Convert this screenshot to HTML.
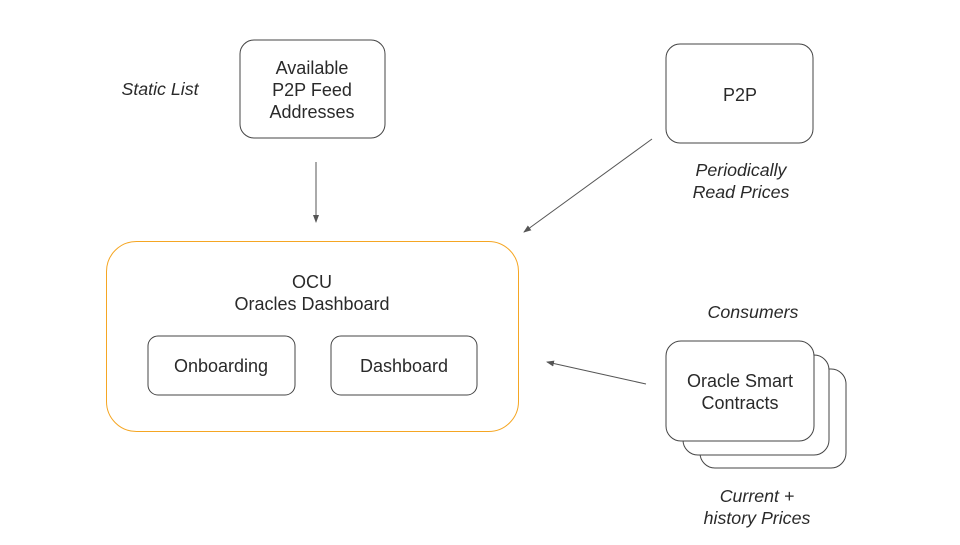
<!DOCTYPE html>
<html><head><style>body{margin:0;background:#fff}</style></head><body>
<svg width="960" height="540" viewBox="0 0 960 540" xmlns="http://www.w3.org/2000/svg" font-family="Liberation Sans, DejaVu Sans, sans-serif" font-size="18" fill="#2a2a2a">
<defs><marker id="a" markerWidth="8" markerHeight="6" refX="7" refY="3" orient="auto" markerUnits="userSpaceOnUse"><path d="M0,0 L8,3 L0,6 z" fill="#555"/></marker></defs>
<rect width="960" height="540" fill="#fff"/>
<g fill="#fff" stroke="#444" stroke-width="1">
<rect x="240" y="40" width="145" height="98" rx="14"/>
<rect x="666" y="44" width="147" height="99" rx="14"/>
<rect x="106.5" y="241.5" width="412" height="190" rx="30" stroke="#f5a623"/>
<rect x="148" y="336" width="147" height="59" rx="10"/>
<rect x="331" y="336" width="146" height="59" rx="10"/>
<rect x="700" y="369" width="146" height="99" rx="15"/>
<rect x="683" y="355" width="146" height="100" rx="15"/>
<rect x="666" y="341" width="148" height="100" rx="15"/>
</g>
<g stroke="#555" stroke-width="1" fill="none" marker-end="url(#a)">
<line x1="316" y1="162" x2="316" y2="222"/>
<line x1="652" y1="139" x2="524" y2="232"/>
<line x1="646" y1="384" x2="547" y2="362"/>
</g>
<g text-anchor="middle">
<text x="312" y="74">Available</text><text x="312" y="96">P2P Feed</text><text x="312" y="118">Addresses</text>
<text x="740" y="101">P2P</text>
<text x="312" y="288">OCU</text><text x="312" y="310">Oracles Dashboard</text>
<text x="221" y="372">Onboarding</text>
<text x="404" y="372">Dashboard</text>
<text x="740" y="387">Oracle Smart</text><text x="740" y="409">Contracts</text>
<g font-style="italic" font-size="17.8">
<text x="160" y="95">Static List</text>
<text x="741" y="176">Periodically</text><text x="741" y="198">Read Prices</text>
<text x="753" y="318">Consumers</text>
<text x="757" y="502">Current +</text><text x="757" y="524">history Prices</text>
</g></g>
</svg>
</body></html>
